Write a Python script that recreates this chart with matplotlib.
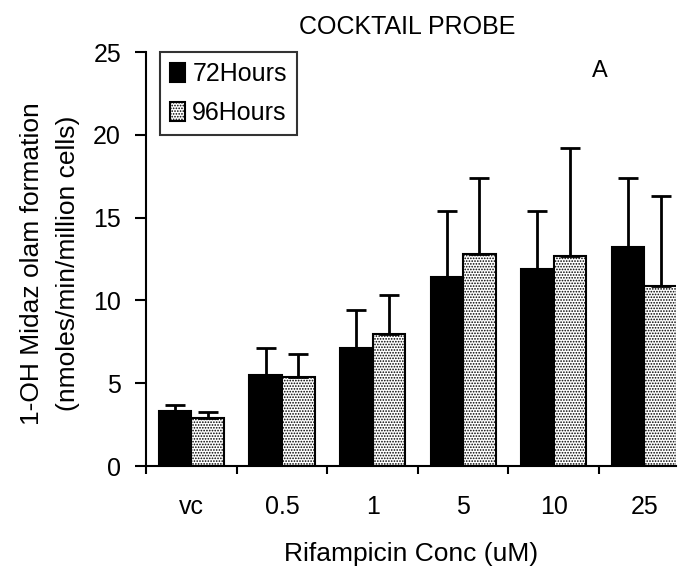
import numpy as np
import matplotlib
matplotlib.use("Agg")
import matplotlib.pyplot as plt

categories = ["vc", "0.5", "1", "5", "10", "25"]
mean_72h = [3.3, 5.5, 7.1, 11.4, 11.9, 13.2]
err_72h = [0.4, 1.6, 2.3, 4.0, 3.5, 4.2]
mean_96h = [2.9, 5.4, 8.0, 12.8, 12.7, 10.9]
err_96h = [0.35, 1.35, 2.3, 4.6, 6.5, 5.4]

plt.rcParams['font.family'] = ['Liberation Sans', 'DejaVu Sans']
plt.rcParams['hatch.linewidth'] = 0.8

fig = plt.figure(figsize=(6.84, 5.69), dpi=100)
ax = fig.add_axes([0.2135, 0.181, 0.775, 0.7276])

x = np.arange(len(categories))
w = 0.36
ax.bar(x - w / 2, mean_72h, w, color="black", edgecolor="black", linewidth=1.5,
       yerr=[np.zeros(len(err_72h)), err_72h], capsize=7,
       error_kw=dict(elinewidth=2, capthick=2, ecolor="black"), label="72Hours")
ax.bar(x + w / 2, mean_96h, w, color="white", edgecolor="black", linewidth=1.5,
       hatch="......", yerr=[np.zeros(len(err_96h)), err_96h], capsize=7,
       error_kw=dict(elinewidth=2, capthick=2, ecolor="black"), label="96Hours")

ax.set_xlim(-0.5, 5.35)
ax.set_ylim(0, 25)
ax.set_yticks([0, 5, 10, 15, 20, 25])
ax.set_xticks(np.arange(-0.5, 5.0, 1.0))
ax.set_xticklabels([])
ax.set_xticks(x, minor=True)
ax.set_xticklabels(categories, minor=True)
ax.tick_params(axis="x", which="minor", length=0, pad=21, labelsize=18)
ax.tick_params(axis="x", which="major", length=6, width=1.5, direction="out")
ax.tick_params(axis="y", length=8, width=1.5, direction="out", pad=10, labelsize=18)

for side in ["top", "right"]:
    ax.spines[side].set_visible(False)
for side in ["left", "bottom"]:
    ax.spines[side].set_linewidth(1.5)

ax.set_xlabel("Rifampicin Conc (uM)", fontsize=19)
ax.xaxis.set_label_coords(0.5, -0.183)
ax.set_ylabel("1-OH Midaz olam formation\n(nmoles/min/million cells)", fontsize=19,
              linespacing=1.6)
ax.yaxis.set_label_coords(-0.125, 0.49)
fig.text(0.595, 0.953, "COCKTAIL PROBE", ha="center", va="center", fontsize=18)
ax.text(4.51, 23.85, "A", ha="center", va="center", fontsize=17)

leg = ax.legend(loc="upper left", bbox_to_anchor=(0.026, 1.0), fontsize=18,
                frameon=True, fancybox=False, handlelength=0.6, handleheight=0.8,
                handletextpad=0.3, borderpad=0.4, labelspacing=0.6, borderaxespad=0)
leg.get_frame().set_edgecolor("black")
leg.get_frame().set_linewidth(1.5)

fig.savefig("out.png", dpi=100)
